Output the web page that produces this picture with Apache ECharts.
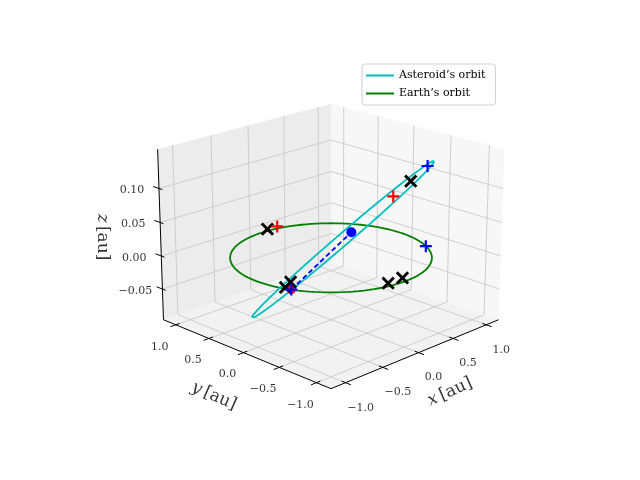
<!DOCTYPE html>
<html><head><meta charset="utf-8">
<script src="https://cdn.jsdelivr.net/npm/echarts@6/dist/echarts.min.js"></script>
<style>html,body{margin:0;padding:0;background:#fff}#c{width:640px;height:480px}</style>
</head><body><div id="c"></div>
<script>
// ---- data ----
const xTicks = [-1.0, -0.5, 0.0, 0.5, 1.0];
const yTicks = [-1.0, -0.5, 0.0, 0.5, 1.0];
const zTicks = [-0.05, 0.00, 0.05, 0.10];
const xyLimit = [-1.19, 1.19];
const zLimit = [-0.097, 0.157];
const earthOrbitRadius = 1.0;
const asteroidCenter = [-0.01, -0.165, 0.03];
const asteroidMajor = [0.72, -0.545, 0.11];
const asteroidMinor = [0.07, 0.12, 0.0];
const blackCrosses = [[0.11,1.04,0],[-0.785,-0.24,0],[-0.92,-0.31,0],[-0.15,-0.92,0],[0.05,-0.92,0],[0.53,-0.57,0.112]];
const redPluses = [[0.24,1.03,0],[0.39,-0.47,0.091]];
const bluePluses = [[0.66,-0.67,0.133],[0.88,-0.47,0],[-0.92,-0.39,0]];
const earthPos = [-0.92,-0.39,0];
const asteroidPos = [0.062,-0.22,0.041];

// ---- projection (elev 20, azim -135) ----
const R = xyLimit[1], ZMIN = zLimit[0], ZMAX = zLimit[1], ZR = ZMAX - ZMIN;
const sE = Math.sin(20*Math.PI/180), cE = Math.cos(20*Math.PI/180);
function proj(p){
  const X = p[0]/R*2, Y = p[1]/R*2, Z = p[2]/ZR*3;
  const sx = (X-Y)/Math.SQRT2, sy = (X+Y)/Math.SQRT2*sE + Z*cE;
  const depth = (X+Y)/Math.SQRT2*cE - Z*sE;
  const f = 30/(30+depth);
  return [331 + 60*sx*f, 256 - 60*sy*f];
}
const series = [];
function line(pts, color, width, extra){
  series.push(Object.assign({type:'line', data: pts.map(proj), symbol:'none', silent:true,
    itemStyle:{color:color}, lineStyle:{color:color, width:width, type:'solid'}, z:2}, extra||{}));
}
function poly(pts, color){
  series.push({type:'custom', silent:true, z:1, data:[0], renderItem:function(params, api){
    return {type:'polygon', shape:{points: pts.map(p=>api.coord(proj(p)))}, style:{fill:color, stroke:'none'}};
  }});
}
function texts(items){
  series.push({type:'scatter', symbolSize:0, silent:true, z:5,
    data: items.map(it=>({value:[proj(it.p)[0]+it.d[0], proj(it.p)[1]+it.d[1]], name:it.t})),
    label:{show:true, position:'inside', formatter:'{b}',
      fontFamily:'DejaVu Serif', color:'#000', fontSize:11, align:'center', verticalAlign:'middle'}});
}
const lab = v => (v<0?'\u2212':'') + Math.abs(v).toFixed(1);
const labz = v => (v<0?'\u2212':'') + Math.abs(v).toFixed(2);
// panes
poly([[R,R,ZMIN],[-R,R,ZMIN],[-R,R,ZMAX],[R,R,ZMAX]], '#ececec');
poly([[R,R,ZMIN],[R,-R,ZMIN],[R,-R,ZMAX],[R,R,ZMAX]], '#f7f7f7');
poly([[-R,-R,ZMIN],[R,-R,ZMIN],[R,R,ZMIN],[-R,R,ZMIN]], '#f2f2f2');
// gridlines
const gc = '#c4c4c4';
xTicks.forEach(t=>{ line([[t,-R,ZMIN],[t,R,ZMIN],[t,R,ZMAX]], gc, 0.8); });
yTicks.forEach(t=>{ line([[-R,t,ZMIN],[R,t,ZMIN],[R,t,ZMAX]], gc, 0.8); });
zTicks.forEach(t=>{ line([[-R,R,t],[R,R,t],[R,-R,t]], gc, 0.8); });
// axes
line([[-R,-R,ZMIN],[R,-R,ZMIN]], '#000', 1);
line([[-R,-R,ZMIN],[-R,R,ZMIN]], '#000', 1);
line([[-R,R,ZMIN],[-R,R,ZMAX]], '#000', 1);
xTicks.forEach(t=>line([[t,-R+0.05,ZMIN],[t,-R-0.07,ZMIN]], '#000', 1));
yTicks.forEach(t=>line([[-R+0.05,t,ZMIN],[-R-0.07,t,ZMIN]], '#000', 1));
zTicks.forEach(t=>line([[-R,R+0.09,t],[-R,R-0.05,t]], '#000', 1));
texts(xTicks.map(t=>({p:[t,-R,ZMIN], d:[15,25], t:lab(t)})));
texts(yTicks.map(t=>({p:[-R,t,ZMIN], d:[-16,22], t:lab(t)})));
texts(zTicks.map(t=>({p:[-R,R,t], d:[-27,2], t:labz(t)})));
// axis titles
const rich = {i:{fontStyle:'italic', fontFamily:'DejaVu Serif', fontSize:17}, n:{fontFamily:'DejaVu Serif', fontSize:17}};
series.push({type:'scatter', symbolSize:0, silent:true, z:5, data:[
  {value:[450,392], name:'x', label:{rotate:24}},
  {value:[214,396], name:'y', label:{rotate:-24}},
  {value:[102,237], name:'z', label:{rotate:-90}}],
  label:{show:true, position:'inside', formatter:p=>'{i|'+p.name+'} {n|[au]}', rich:rich, color:'#000'}});
// Earth's orbit
const earth = [];
for (let i=0;i<=120;i++){ const a=i/120*2*Math.PI; earth.push([earthOrbitRadius*Math.cos(a), earthOrbitRadius*Math.sin(a), 0]); }
line(earth, '#008000', 1.8, {name:"Earth\u2019s orbit", z:3});
// Asteroid's orbit
const ast = [];
for (let i=0;i<=160;i++){ const a=i/160*2*Math.PI, c=Math.cos(a), s=Math.sin(a);
  ast.push([0,1,2].map(k=>asteroidCenter[k]+c*asteroidMajor[k]+s*asteroidMinor[k])); }
line(ast, '#00bfbf', 1.8, {name:"Asteroid\u2019s orbit", z:4});
line([earthPos, asteroidPos], '#0000ff', 1.8, {lineStyle:{color:'#0000ff', width:1.8, type:[5,3]}, z:4});
// markers
const plusPath = 'path://M4.1,0H5.9V4.1H10V5.9H5.9V10H4.1V5.9H0V4.1H4.1Z';
function marks(pts, color, rot, size){
  series.push({type:'scatter', silent:true, z:6, symbol:plusPath, symbolRotate:rot, symbolSize:size,
    itemStyle:{color:color, opacity:1}, data: pts.map(proj)});
}
series.push({type:'scatter', silent:true, z:6, symbolSize:9, itemStyle:{color:'#ff0000', opacity:1}, data:[proj(earthPos)]});
series.push({type:'scatter', silent:true, z:6, symbolSize:10, itemStyle:{color:'#0000ff', opacity:1}, data:[proj(asteroidPos)]});
marks(blackCrosses, '#000', 45, 16);
marks(redPluses, '#ff0000', 0, 12);
marks(bluePluses, '#0000ff', 0, 12);

const chart = echarts.init(document.getElementById('c'));
chart.setOption({
  animation:false,
  grid:{left:0, top:0, width:640, height:480},
  xAxis:{type:'value', min:0, max:640, show:false},
  yAxis:{type:'value', min:0, max:480, inverse:true, show:false},
  legend:{data:["Asteroid\u2019s orbit","Earth\u2019s orbit"], orient:'vertical', left:362, top:64,
    itemWidth:28, itemHeight:2, itemGap:7, padding:[6,10,6,4], borderColor:'#d0d0d0', borderWidth:1, borderRadius:3,
    backgroundColor:'#fff', icon:'rect', textStyle:{fontFamily:'DejaVu Serif', fontSize:11, color:'#000'}},
  series: series
});
</script></body></html>
